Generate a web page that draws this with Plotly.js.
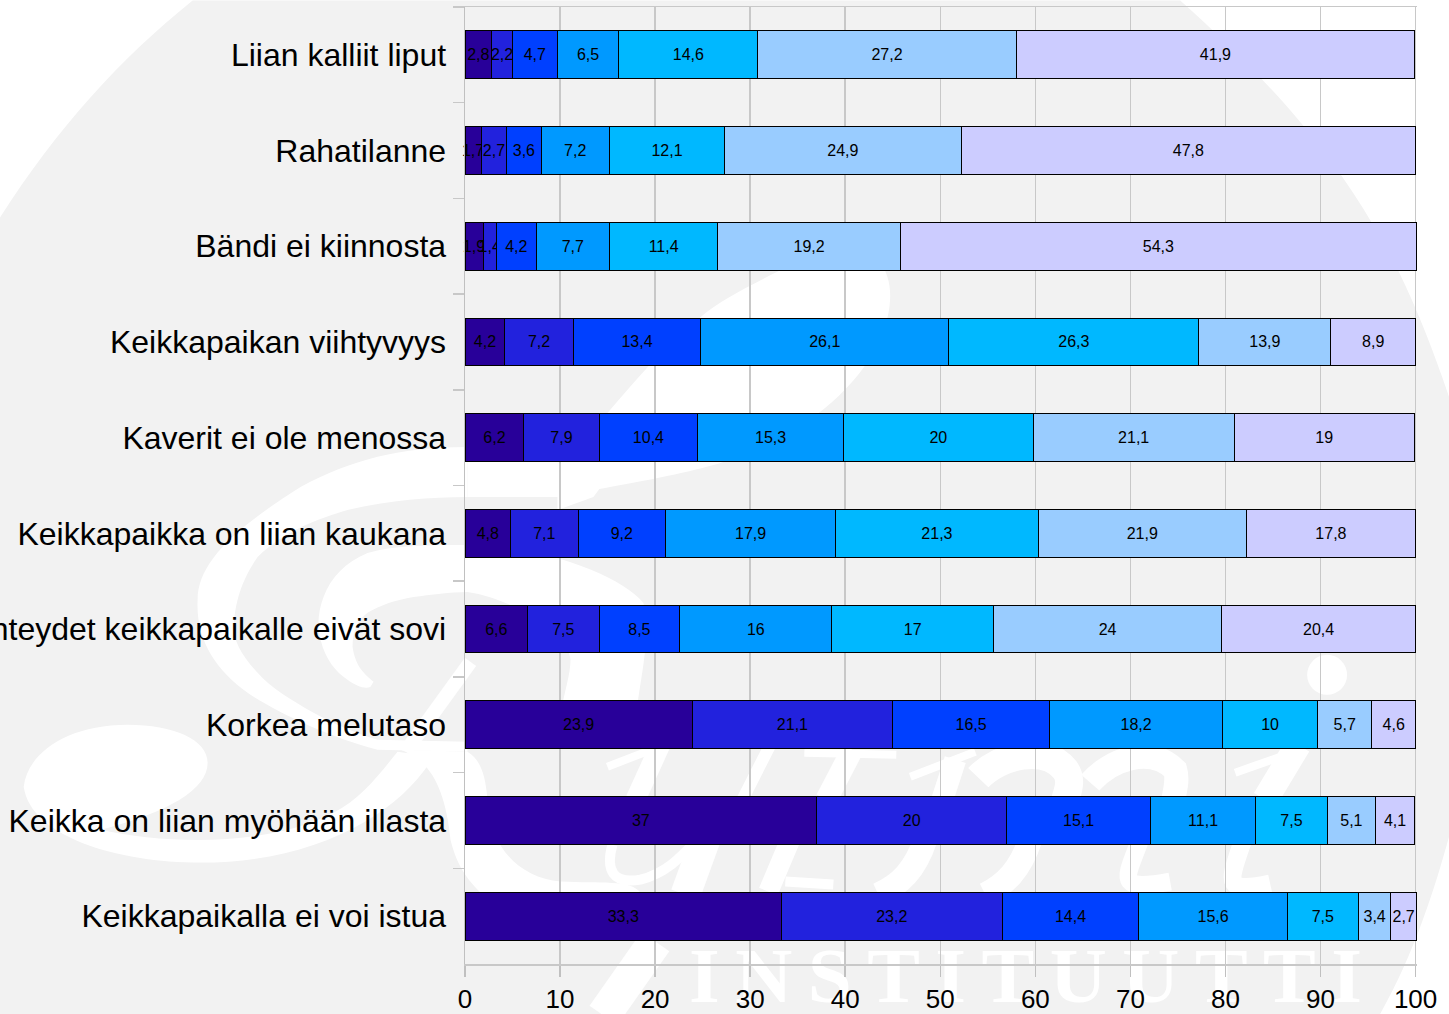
<!DOCTYPE html>
<html>
<head>
<meta charset="utf-8">
<script src="https://cdn.plot.ly/plotly-3.0.1.min.js"></script>
<style>
html,body{margin:0;padding:0;background:#fff;overflow:hidden}
#chart{width:1449px;height:1014px}
.shape-label{letter-spacing:15.5px;font-weight:700 !important}
</style>
</head>
<body>
<div id="chart"></div>
<script>
const categories = ["Liian kalliit liput","Rahatilanne","Bändi ei kiinnosta","Keikkapaikan viihtyvyys","Kaverit ei ole menossa","Keikkapaikka on liian kaukana","Kulkuyhteydet keikkapaikalle eivät sovi","Korkea melutaso","Keikka on liian myöhään illasta","Keikkapaikalla ei voi istua"];
const series1 = [2.8,1.7,1.9,4.2,6.2,4.8,6.6,23.9,37,33.3];
const series2 = [2.2,2.7,1.4,7.2,7.9,7.1,7.5,21.1,20,23.2];
const series3 = [4.7,3.6,4.2,13.4,10.4,9.2,8.5,16.5,15.1,14.4];
const series4 = [6.5,7.2,7.7,26.1,15.3,17.9,16,18.2,11.1,15.6];
const series5 = [14.6,12.1,11.4,26.3,20,21.3,17,10,7.5,7.5];
const series6 = [27.2,24.9,19.2,13.9,21.1,21.9,24,5.7,5.1,3.4];
const series7 = [41.9,47.8,54.3,8.9,19,17.8,20.4,4.6,4.1,2.7];
const allSeries = [series1,series2,series3,series4,series5,series6,series7];
const colors = ["#280099","#2222DD","#0040FF","#0099FF","#00B8FF","#99CCFF","#CCCCFF"];
const xTicks = [0,10,20,30,40,50,60,70,80,90,100];

const W = 1449, H = 1014;
// The axis runs a hair past 100 because two rows add up to 100,1 after rounding.
const xMax = 100.15;
const plotL = 464.5, plot100 = 1415.5, plotT = 6.5, plotB = 964.5;
const plotR = plotL + (plot100 - plotL) * xMax / 100;

// Decorative watermark outlines, in page pixels
const blob = "M-10,232 C50,135 115,62 192,0 L1180,0 C1225,40 1270,85 1303,125 C1345,175 1375,225 1398,270 C1420,315 1437,360 1455,415 L1455,815 C1440,870 1420,945 1377,1020 L-10,1020 Z";
const fills = [
 // teardrop with tail
 "M23,787 C27,753 67,725 127,725 C173,725 207,740 207,763 C207,790 167,813 100,830 C167,845 267,847 333,813 C360,800 380,773 397,752 L433,757 C400,813 317,863 200,863 C117,863 30,837 23,787 Z",
 // outer crescent, left side and lower arm
 "M467,447 C400,447 350,460 300,487 C240,525 197,560 197,600 C195,640 215,670 247,693 C275,712 330,738 377,750 L467,752 L467,742 L377,740 C350,732 330,722 313,713 C290,700 270,688 257,673 C240,655 233,640 233,627 C235,595 245,575 257,557 C285,530 320,518 347,510 C390,500 430,497 467,497 Z",
 // crescent continuing over the top as a loop
 "M467,447 C560,445 680,430 753,410 C800,395 845,380 860,345 C800,335 730,345 693,367 L655,413 L593,497 L557,510 L557,497 L467,497 Z",
 "M557,497 L593,490 C650,480 690,472 720,463 C790,440 850,400 880,340 C892,310 895,280 878,260 C850,245 810,255 780,270 C750,285 720,300 700,317 C665,345 635,380 607,413 L560,500 Z",
 // inner hook
 "M373,682 C365,675 355,668 352,647 C352,630 358,620 367,613 C380,605 395,600 413,597 C430,595 450,592 467,592 C520,600 570,640 570,660 C570,680 560,700 556,745 L640,745 C625,720 655,650 643,603 C620,575 540,545 467,545 C430,545 395,545 367,553 C345,562 330,578 323,597 C318,610 316,625 320,640 C325,660 335,672 347,680 C355,686 365,690 370,687 Z",
 // wedge beside the axis, running into the bottom flourish
 "M400,750 C430,760 445,790 450,840 C455,860 462,875 480,893 L640,893 C630,880 600,884 560,882 C520,878 490,850 487,800 C485,775 480,760 467,752 Z"
];
const strokes = [
 ["M470,662 L405,752", 14],
 // upper row of script letters
 ["M607,767 L651,750", 8],
 ["M660,745 L635,800", 20],
 ["M770,745 L742,800", 12],
 ["M804,753 L896,755", 8],
 ["M852,750 L826,800", 22],
 ["M910,777 L975,752", 8],
 ["M955,760 L942,800", 22],
 ["M978,778 C1000,755 1045,745 1065,770 C1072,780 1068,790 1065,800", 28],
 ["M1090,783 C1110,760 1150,745 1175,770 C1178,780 1175,790 1173,800", 24],
 ["M1235,773 L1300,750", 8],
 ["M1298,745 L1265,800", 26],
 // lower row of script letters
 ["M612,845 C605,870 612,885 640,880 C665,874 680,858 695,842", 10],
 ["M705,840 L685,895", 30],
 ["M790,840 L768,892", 20],
 ["M785,882 L833,885", 10],
 ["M925,840 C915,870 900,885 878,895", 24],
 ["M1030,840 C1020,870 1005,885 985,895", 24],
 ["M1140,840 C1125,880 1115,892 1170,882", 18],
 ["M1243,840 C1230,880 1220,895 1270,884", 18],
 // stroke under the last row
 ["M655,942 L603,1016", 34]
];
const dots = [[1327,675,20]];

const fx = x => (x - plotL) / (plotR - plotL);
const fy = y => 1 - (y - plotT) / (plotB - plotT);
function toPaper(d){
  return d.replace(/(-?\d+(?:\.\d+)?),(-?\d+(?:\.\d+)?)/g,(m,x,y)=>fx(+x).toFixed(5)+","+fy(+y).toFixed(5));
}
const shapes = [
 {type:"path",xref:"paper",yref:"paper",layer:"below",path:toPaper(blob),fillcolor:"#f2f2f2",line:{width:0}},
 ...fills.map(p=>({type:"path",xref:"paper",yref:"paper",layer:"below",path:toPaper(p),fillcolor:"#ffffff",line:{width:0}})),
 ...strokes.map(s=>({type:"path",xref:"paper",yref:"paper",layer:"below",path:toPaper(s[0]),fillcolor:"rgba(0,0,0,0)",line:{color:"#ffffff",width:s[1]}})),
 ...dots.map(c=>({type:"circle",xref:"paper",yref:"paper",layer:"below",
   x0:fx(c[0]-c[2]),x1:fx(c[0]+c[2]),y0:fy(c[1]+c[2]),y1:fy(c[1]-c[2]),fillcolor:"#ffffff",line:{width:0}})),
 {type:"rect",xref:"paper",yref:"paper",layer:"below",
   x0:fx(702),x1:fx(1364),y0:fy(995),y1:fy(939),
   fillcolor:"rgba(0,0,0,0)",line:{width:0},
   label:{text:"<b>INSTITUUTTI</b>",textposition:"middle center",font:{family:"Liberation Serif",size:79,color:"#ffffff"}}}
];

const traces = allSeries.map((vals,i)=>({
  type:"bar",orientation:"h",name:"Sarja "+(i+1),
  y:categories,x:vals,
  text:vals.map(v=>String(v).replace(".",",")),
  textposition:"inside",insidetextanchor:"middle",constraintext:"none",textangle:0,
  cliponaxis:false,
  textfont:{family:"Liberation Sans",size:16,color:"#000000"},
  marker:{color:colors[i],line:{color:"#000000",width:1}},
  hoverinfo:"x+y"
}));

Plotly.newPlot("chart",traces,{
  width:W,height:H,
  margin:{l:plotL,r:W-plotR,t:plotT,b:H-plotB,pad:0},
  barmode:"stack",bargap:0.5,showlegend:false,
  paper_bgcolor:"#ffffff",plot_bgcolor:"rgba(0,0,0,0)",
  separators:", ",
  font:{family:"Liberation Sans",color:"#000000"},
  shapes:shapes,
  xaxis:{range:[0,xMax],tickvals:xTicks,ticktext:xTicks.map(String),tickmode:"array",
    showgrid:true,gridcolor:"#c8c8c8",gridwidth:1.5,zeroline:false,
    showline:true,linecolor:"#c8c8c8",linewidth:1.5,mirror:true,
    ticks:"outside",ticklen:11,tickcolor:"#c0c0c0",tickwidth:1.5,
    ticklabelstandoff:0,tickfont:{family:"Liberation Sans",size:26,color:"#000000"}},
  yaxis:{type:"category",categoryorder:"array",categoryarray:categories,range:[9.5,-0.5],tickson:"boundaries",
    showgrid:false,zeroline:false,showline:true,linecolor:"#c0c0c0",linewidth:1.5,
    ticks:"outside",ticklen:11,tickcolor:"#c8c8c8",tickwidth:1.5,automargin:false,ticklabelstandoff:11,
    tickfont:{family:"Liberation Sans",size:32,color:"#000000"}}
},{displayModeBar:false,staticPlot:true});
</script>
</body>
</html>
